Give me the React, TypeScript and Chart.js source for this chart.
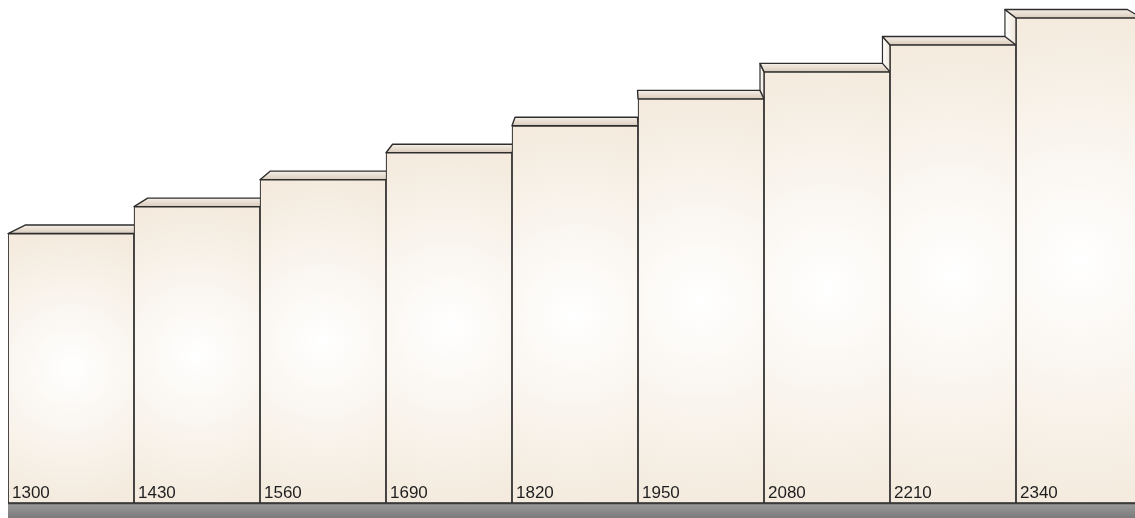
import React, { useEffect, useRef } from "react";
import { Chart, registerables } from "chart.js";

Chart.register(...registerables);

const categories = ["A", "B", "C", "D", "E", "F", "G", "H", "I"];
const values = [1300, 1430, 1560, 1690, 1820, 1950, 2080, 2210, 2340];
const labels = ["1300", "1430", "1560", "1690", "1820", "1950", "2080", "2210", "2340"];

const CANVAS_W = 1150;
const CANVAS_H = 518;
const VP_X = 621;
const K = 0.028;
const DY = -8.5;
const BASE_COLOR = "rgb(244,235,222)";
const EDGE = "#2e2e2e";

const dxAt = (x: number) => K * (VP_X - x);

function barRects(chart: any) {
  const meta = chart.getDatasetMeta(0);
  return meta.data.map((el: any) => {
    const p = el.getProps(["x", "y", "base", "width"], true);
    return { xl: p.x - p.width / 2, xr: p.x + p.width / 2, yt: p.y, yb: p.base };
  });
}

const faces3d = {
  id: "faces3d",
  beforeDatasetsDraw(chart: any) {
    const ctx = chart.ctx;
    const area = chart.chartArea;
    const rects = barRects(chart);
    ctx.save();
    // floor
    const fg = ctx.createLinearGradient(0, area.bottom, 0, CANVAS_H);
    fg.addColorStop(0, "#9c9c9c");
    fg.addColorStop(1, "#7a7a7a");
    ctx.fillStyle = fg;
    ctx.fillRect(area.left, area.bottom, CANVAS_W - area.left, CANVAS_H - area.bottom);
    ctx.lineJoin = "round";
    // side faces
    rects.forEach((r: any) => {
      const drawSide = (x: number) => {
        const d = dxAt(x);
        const g = ctx.createLinearGradient(x + d, 0, x, 0);
        g.addColorStop(0, "#ffffff");
        g.addColorStop(1, "#efe6d9");
        ctx.beginPath();
        ctx.moveTo(x, r.yt);
        ctx.lineTo(x + d, r.yt + DY);
        ctx.lineTo(x + d, r.yb + DY);
        ctx.lineTo(x, r.yb);
        ctx.closePath();
        ctx.fillStyle = g;
        ctx.fill();
        ctx.strokeStyle = EDGE;
        ctx.lineWidth = 1.2;
        ctx.stroke();
      };
      if (dxAt(r.xl) < -0.5) drawSide(r.xl);
      if (dxAt(r.xr) > 0.5) drawSide(r.xr);
    });
    // top faces (occluded later by neighbouring front faces)
    rects.forEach((r: any) => {
      const dl = dxAt(r.xl);
      const dr = dxAt(r.xr);
      const g = ctx.createLinearGradient(0, r.yt + DY, 0, r.yt);
      g.addColorStop(0, "#f6f0e8");
      g.addColorStop(1, "#d9cbbb");
      ctx.beginPath();
      ctx.moveTo(r.xl, r.yt);
      ctx.lineTo(r.xl + dl, r.yt + DY);
      ctx.lineTo(r.xr + dr, r.yt + DY);
      ctx.lineTo(r.xr, r.yt);
      ctx.closePath();
      ctx.fillStyle = g;
      ctx.fill();
      ctx.strokeStyle = EDGE;
      ctx.lineWidth = 1.4;
      ctx.stroke();
    });
    ctx.restore();
  },
  afterDatasetsDraw(chart: any) {
    const ctx = chart.ctx;
    const rects = barRects(chart);
    ctx.save();
    rects.forEach((r: any, i: number) => {
      ctx.fillStyle = "#1e1e1e";
      ctx.font = "17px 'Liberation Sans', Arial, sans-serif";
      ctx.textBaseline = "alphabetic";
      ctx.textAlign = "left";
      ctx.fillText(labels[i], r.xl + 4, r.yb - 5.5);
    });
    const area = chart.chartArea;
    ctx.beginPath();
    ctx.moveTo(area.left, area.bottom + 0.5);
    ctx.lineTo(CANVAS_W, area.bottom + 0.5);
    ctx.strokeStyle = "#3a3a3a";
    ctx.lineWidth = 1.5;
    ctx.stroke();
    ctx.restore();
  },
};

export default function App() {
  const ref = useRef<HTMLCanvasElement | null>(null);

  useEffect(() => {
    if (!ref.current) return;
    const chart = new Chart(ref.current, {
      type: "bar",
      data: {
        labels: categories,
        datasets: [
          {
            data: values,
            backgroundColor: (c: any) => {
              const ch = c.chart;
              const xs = ch.scales?.x;
              const ys = ch.scales?.y;
              if (!ch.chartArea || !xs || !ys || c.dataIndex === undefined) return BASE_COLOR;
              const cx = xs.getPixelForValue(c.dataIndex);
              const top = ys.getPixelForValue(values[c.dataIndex]);
              const bot = ys.getPixelForValue(0);
              const cy = (top + bot) / 2;
              const rad = Math.max(115, (bot - top) * 0.5);
              const g = ch.ctx.createRadialGradient(cx, cy, 0, cx, cy, rad);
              g.addColorStop(0, "#ffffff");
              g.addColorStop(1, BASE_COLOR);
              return g;
            },
            borderColor: EDGE,
            borderWidth: 1.2,
            borderSkipped: false,
            categoryPercentage: 1,
            barPercentage: 1,
          },
        ],
      },
      options: {
        responsive: false,
        animation: false,
        layout: { padding: { left: 8, right: 8, top: 18, bottom: 15 } },
        plugins: { legend: { display: false }, tooltip: { enabled: false } },
        scales: {
          x: { display: false },
          y: { display: false, min: 0, max: 2340 },
        },
      },
      plugins: [faces3d],
    });
    return () => chart.destroy();
  }, []);

  return (
    <div
      style={{
        position: "fixed",
        top: 0,
        left: 0,
        width: 1135,
        height: 518,
        overflow: "hidden",
        background: "#ffffff",
      }}
    >
      <canvas
        ref={ref}
        width={CANVAS_W}
        height={CANVAS_H}
        style={{ display: "block", width: CANVAS_W, height: CANVAS_H }}
      />
    </div>
  );
}
